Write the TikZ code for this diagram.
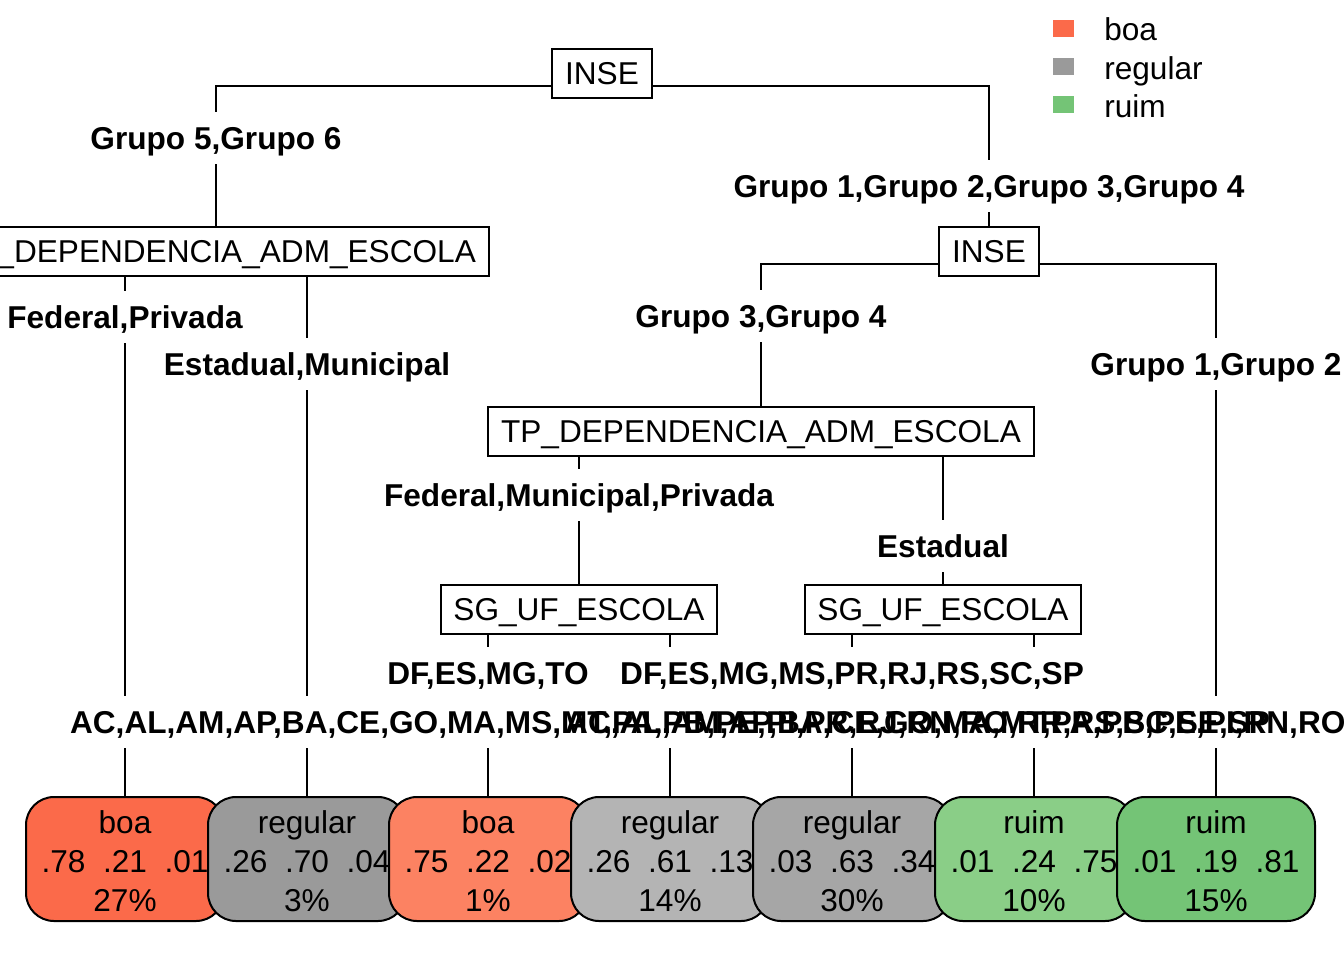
\documentclass[tikz,border=0pt]{standalone}
\usepackage{fontspec}
\setmainfont{Liberation Sans}
\definecolor{cboaA}{HTML}{FB6A4A}
\definecolor{cboaB}{HTML}{FC8262}
\definecolor{cregA}{HTML}{9A9A9A}
\definecolor{cregB}{HTML}{B4B4B4}
\definecolor{cregC}{HTML}{A6A6A6}
\definecolor{cruimA}{HTML}{8ACE87}
\definecolor{cruimB}{HTML}{74C476}
\pgfdeclarelayer{background}
\pgfsetlayers{background,main}
\newcommand\leafnode[6]{%
  \node[leafbox,fill=#3] (#1) at (#2,859) {};
  \node[leaftext] (#1a) at (#2,833) {#4};
  \node[leaftext] (#1b) at (#2,872) {#5};
  \node[leaftext] (#1c) at (#2,911) {#6};
}
\newcommand\labback[4]{\node[labbg] (#1bg) at (#2,#3) {\phantom{#4}};}
\newcommand\labtext[4]{\node[labtx] (#1) at (#2,#3) {#4};}
\newcommand\alllabels[1]{%
  #1{la}{216}{138}{Grupo 5,Grupo 6}
  #1{lb}{989}{186}{Grupo 1,Grupo 2,Grupo 3,Grupo 4}
  #1{lc}{125}{317}{Federal,Privada}
  #1{ld}{307}{364}{Estadual,Municipal}
  #1{le}{761}{316}{Grupo 3,Grupo 4}
  #1{lf}{1216}{364}{Grupo 1,Grupo 2}
  #1{lg}{579}{495}{Federal,Municipal,Privada}
  #1{lh}{943}{546}{Estadual}
  #1{li}{488}{673}{DF,ES,MG,TO}
  #1{lj}{852}{673}{DF,ES,MG,MS,PR,RJ,RS,SC,SP}
  #1{lk}{670}{722}{AC,AL,AM,AP,BA,CE,GO,MA,MS,MT,PA,PB,PE,PI,PR,RJ,RN,RO,RR,RS,SC,SE,SP}
  #1{ll}{1034}{722}{AC,AL,AM,AP,BA,CE,GO,MA,MT,PA,PB,PE,PI,RN,RO,RR,SE,TO}
}
\begin{document}
\begin{tikzpicture}[x=0.75pt,y=-0.75pt,
  every node/.style={font=\fontsize{23.7}{28}\selectfont},
  splitbox/.style={draw,fill=white,line width=1.5pt,inner xsep=9.5pt,inner ysep=0pt,
    minimum height=36.75pt,text height=17pt,text depth=0pt},
  leafbox/.style={draw,line width=1.5pt,rounded corners=21pt,minimum width=148.5pt,
    minimum height=93pt,inner sep=0pt},
  leaftext/.style={anchor=base,inner sep=0pt},
  branch/.style={line width=1.5pt},
  labbg/.style={fill=white,font=\fontsize{23.7}{28}\selectfont\bfseries,inner xsep=2pt,
    inner ysep=11pt,text height=17pt,text depth=0pt},
  labtx/.style={font=\fontsize{23.7}{28}\selectfont\bfseries,inner xsep=2pt,
    inner ysep=11pt,text height=17pt,text depth=0pt},
  legsq/.style={minimum width=15.75pt,minimum height=12.75pt,inner sep=0pt},
  legtx/.style={anchor=base west,inner sep=0pt}
]
\useasboundingbox (0,0) rectangle (1344,960);

% split nodes
\node[splitbox] (root) at (602,73.5) {INSE};
\node[splitbox] (n2) at (216,251) {TP\_DEPENDENCIA\_ADM\_ESCOLA};
\node[splitbox] (n3) at (989,251.5) {INSE};
\node[splitbox] (n6) at (761,431) {TP\_DEPENDENCIA\_ADM\_ESCOLA};
\node[splitbox] (n12) at (579,609) {SG\_UF\_ESCOLA};
\node[splitbox] (n13) at (943,609) {SG\_UF\_ESCOLA};

% split labels
\alllabels\labback
\alllabels\labtext

% leaves
\leafnode{L1}{125}{cboaA}{boa}{.78\ \ .21\ \ .01}{27\%}
\leafnode{L2}{307}{cregA}{regular}{.26\ \ .70\ \ .04}{3\%}
\leafnode{L3}{488}{cboaB}{boa}{.75\ \ .22\ \ .02}{1\%}
\leafnode{L4}{670}{cregB}{regular}{.26\ \ .61\ \ .13}{14\%}
\leafnode{L5}{852}{cregC}{regular}{.03\ \ .63\ \ .34}{30\%}
\leafnode{L6}{1034}{cruimA}{ruim}{.01\ \ .24\ \ .75}{10\%}
\leafnode{L7}{1216}{cruimB}{ruim}{.01\ \ .19\ \ .81}{15\%}

% branches
\begin{pgfonlayer}{background}
\draw[branch] ([yshift=-9pt]root.center) -| (n2.north);
\draw[branch] ([yshift=-9pt]root.center) -| (n3.north);
\draw[branch] ([yshift=-9pt]n2.center) -| (L1.north);
\draw[branch] ([yshift=-9pt]n2.center) -| (L2.north);
\draw[branch] ([yshift=-9pt]n3.center) -| (n6.north);
\draw[branch] ([yshift=-9pt]n3.center) -| (L7.north);
\draw[branch] ([yshift=-9pt]n6.center) -| (n12.north);
\draw[branch] ([yshift=-9pt]n6.center) -| (n13.north);
\draw[branch] ([yshift=-9pt]n12.center) -| (L3.north);
\draw[branch] ([yshift=-9pt]n12.center) -| (L4.north);
\draw[branch] ([yshift=-9pt]n13.center) -| (L5.north);
\draw[branch] ([yshift=-9pt]n13.center) -| (L6.north);
\end{pgfonlayer}

% legend
\node[legsq,fill=cboaA] (kboa) at (1063.5,28.5) {};
\node[legsq,fill=cregA] (kreg) at (1063.5,66.5) {};
\node[legsq,fill=cruimB] (kruim) at (1063.5,104.5) {};
\node[legtx] (tboa) at (1104,40.5) {boa};
\node[legtx] (treg) at (1104,79) {regular};
\node[legtx] (truim) at (1104,117.5) {ruim};
\end{tikzpicture}
\end{document}
